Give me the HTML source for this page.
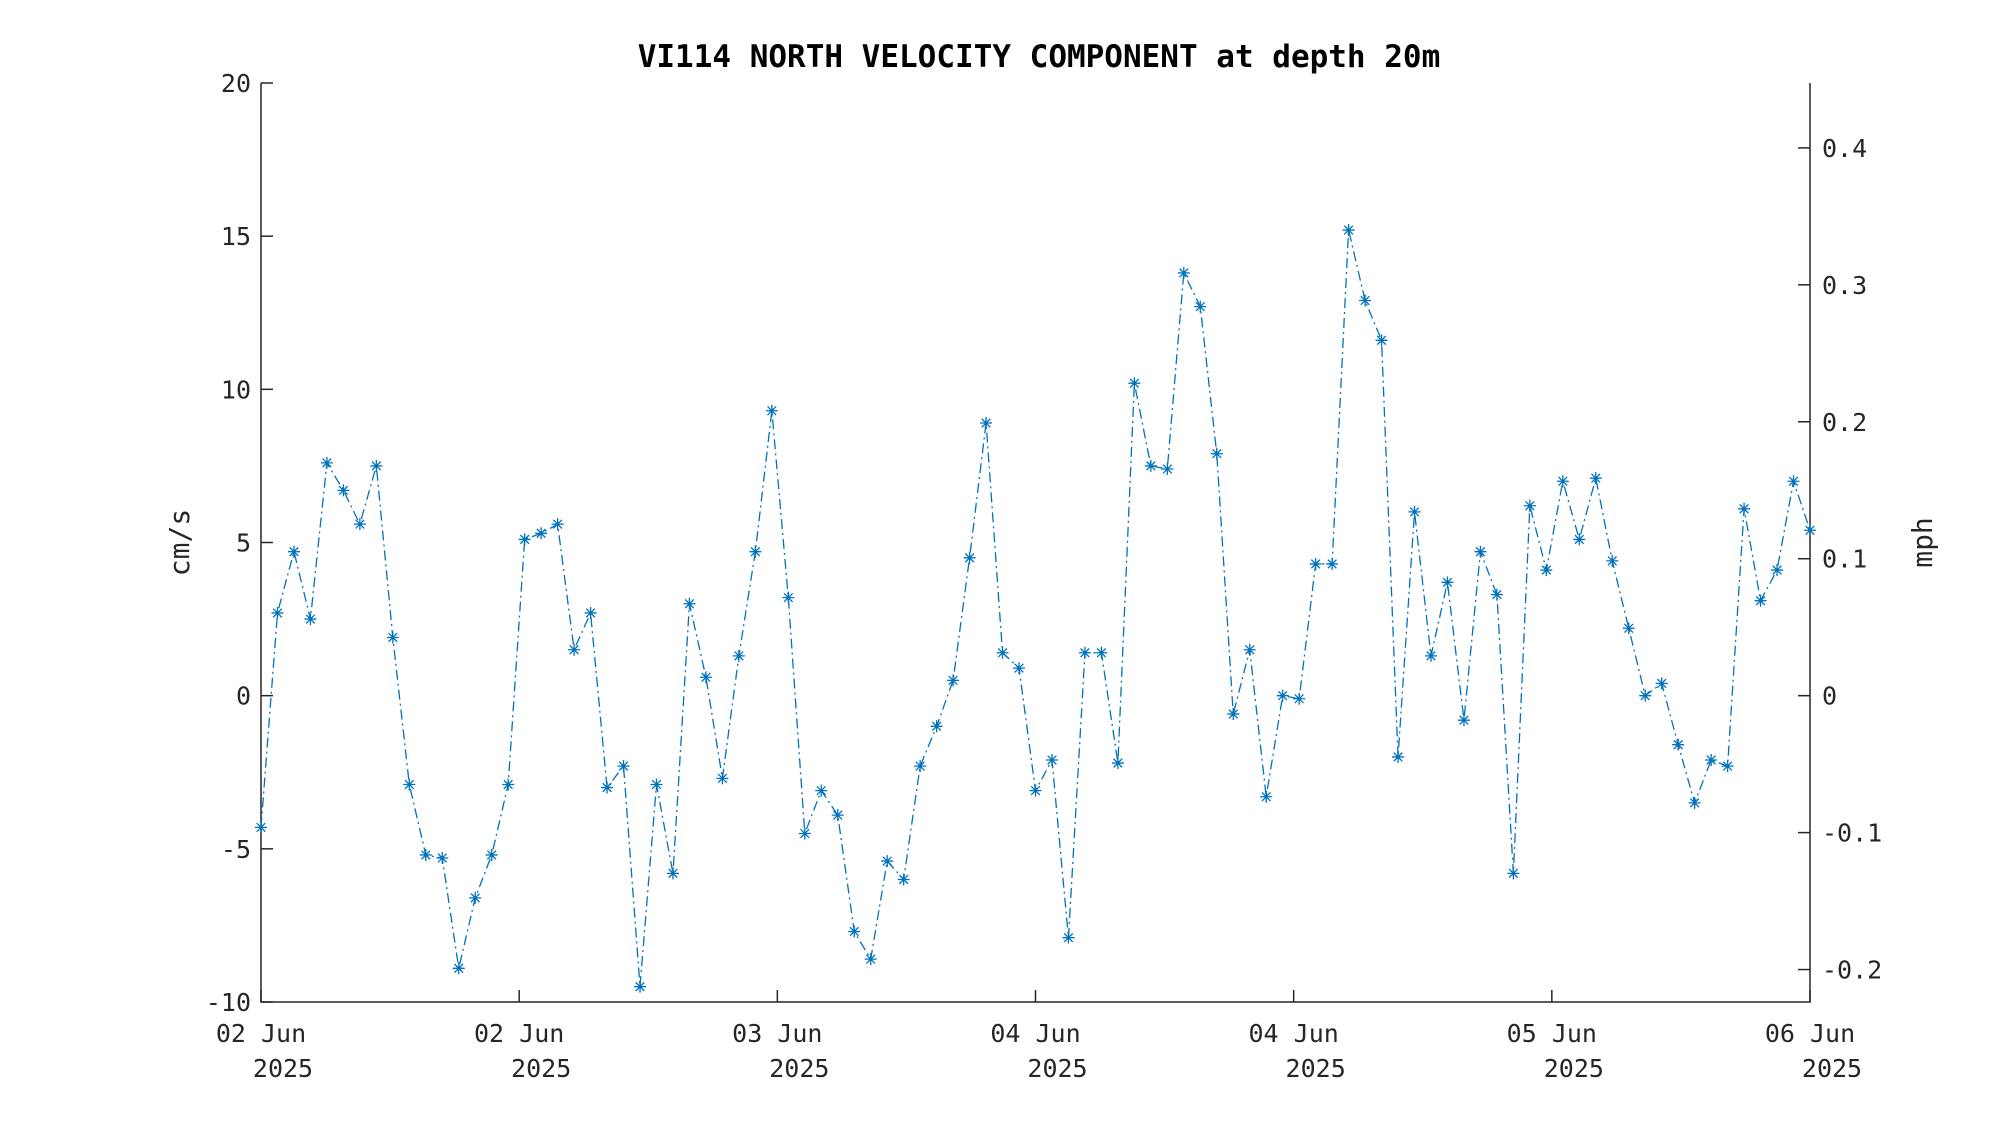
<!DOCTYPE html>
<html><head><meta charset="utf-8"><style>
html,body{margin:0;padding:0;background:#fff;}
svg text{font-family:"DejaVu Sans Mono","Liberation Mono",monospace;fill:#262626;}
</style></head><body>
<svg id="chart" width="2000" height="1125" viewBox="0 0 2000 1125" xmlns="http://www.w3.org/2000/svg">
<rect width="2000" height="1125" fill="#fff"/>
<text x="1039" y="67" text-anchor="middle" font-size="31" font-weight="bold" style="fill:#000">VI114 NORTH VELOCITY COMPONENT at depth 20m</text>
<g id="axes"></g>
<g id="series"></g>
</svg>
<script>
const values = [-4.3,2.7,4.7,2.5,7.6,6.7,5.6,7.5,1.9,-2.9,-5.2,-5.3,-8.9,-6.6,-5.2,-2.9,5.1,5.3,5.6,1.5,2.7,-3.0,-2.3,-9.5,-2.9,-5.8,3.0,0.6,-2.7,1.3,4.7,9.3,3.2,-4.5,-3.1,-3.9,-7.7,-8.6,-5.4,-6.0,-2.3,-1.0,0.5,4.5,8.9,1.4,0.9,-3.1,-2.1,-7.9,1.4,1.4,-2.2,10.2,7.5,7.4,13.8,12.7,7.9,-0.6,1.5,-3.3,0.0,-0.1,4.3,4.3,15.2,12.9,11.6,-2.0,6.0,1.3,3.7,-0.8,4.7,3.3,-5.8,6.2,4.1,7.0,5.1,7.1,4.4,2.2,0.0,0.4,-1.6,-3.5,-2.1,-2.3,6.1,3.1,4.1,7.0,5.4];
const yTicks = [-10,-5,0,5,10,15,20];
const mphTicks = [-0.2,-0.1,0,0.1,0.2,0.3,0.4];
const xTickLabels = ["02 Jun","02 Jun","03 Jun","04 Jun","04 Jun","05 Jun","06 Jun"];
const xTickYear = ["2025","2025","2025","2025","2025","2025","2025"];

const L=261,R=1810,T=83,B=1002,yMin=-10,yMax=20;
const NS="http://www.w3.org/2000/svg";
const yS=v=>B-(v-yMin)/(yMax-yMin)*(B-T);
const xS=i=>L+i/(values.length-1)*(R-L);
const axes=document.getElementById('axes'), ser=document.getElementById('series');
function mk(tag,attrs,parent){const e=document.createElementNS(NS,tag);for(const k in attrs)e.setAttribute(k,attrs[k]);parent.appendChild(e);return e;}

let e;
e=mk('path',{d:`M${L},${T}V${B}H${R}V${T}`,fill:'none',stroke:'#262626','stroke-width':1.5},axes);


yTicks.forEach(v=>{
  const y=yS(v);
  e=mk('line',{x1:L,x2:L+12,y1:y,y2:y,stroke:'#262626','stroke-width':1.5},axes);
  
  
  e=mk('text',{x:L-10,y:y+9,'text-anchor':'end','font-size':25},axes);
  e.textContent=String(v);
  
  
});
mphTicks.forEach(v=>{
  const y=yS(v*44.704);
  e=mk('line',{x1:R-12,x2:R,y1:y,y2:y,stroke:'#262626','stroke-width':1.5},axes);
  
  
  e=mk('text',{x:R+12,y:y+9,'text-anchor':'start','font-size':25},axes);
  e.textContent=String(v);
  
  
});
xTickLabels.forEach((lab,i)=>{
  const x=L+i/(xTickLabels.length-1)*(R-L);
  e=mk('line',{x1:x,x2:x,y1:B-12,y2:B,stroke:'#262626','stroke-width':1.5},axes);
  
  
  e=mk('text',{x:x,y:B+40,'text-anchor':'middle','font-size':25},axes);
  e.textContent=lab;
  
  
  e=mk('text',{x:x+22,y:B+75,'text-anchor':'middle','font-size':25},axes);
  e.textContent=xTickYear[i];
  
  
});
e=mk('text',{x:0,y:0,'text-anchor':'middle','font-size':28,transform:`translate(189,${(T+B)/2}) rotate(-90)`},axes);
e.textContent='cm/s';


e=mk('text',{x:0,y:0,'text-anchor':'middle','font-size':28,transform:`translate(1932,${(T+B)/2}) rotate(-90)`},axes);
e.textContent='mph';



const pts=values.map((v,i)=>[xS(i),yS(v)]);
e=mk('polyline',{points:pts.map(p=>p.join(',')).join(' '),fill:'none',stroke:'#0072BD','stroke-width':1.3,'stroke-dasharray':'10,4,2,4'},ser);


pts.forEach(([x,y])=>{
  const s=6,d=4.3;
  e=mk('path',{d:`M${x-s},${y}H${x+s}M${x},${y-s}V${y+s}M${x-d},${y-d}L${x+d},${y+d}M${x-d},${y+d}L${x+d},${y-d}`,stroke:'#0072BD','stroke-width':1.3,fill:'none'},ser);
  
  
});
</script>
</body></html>
